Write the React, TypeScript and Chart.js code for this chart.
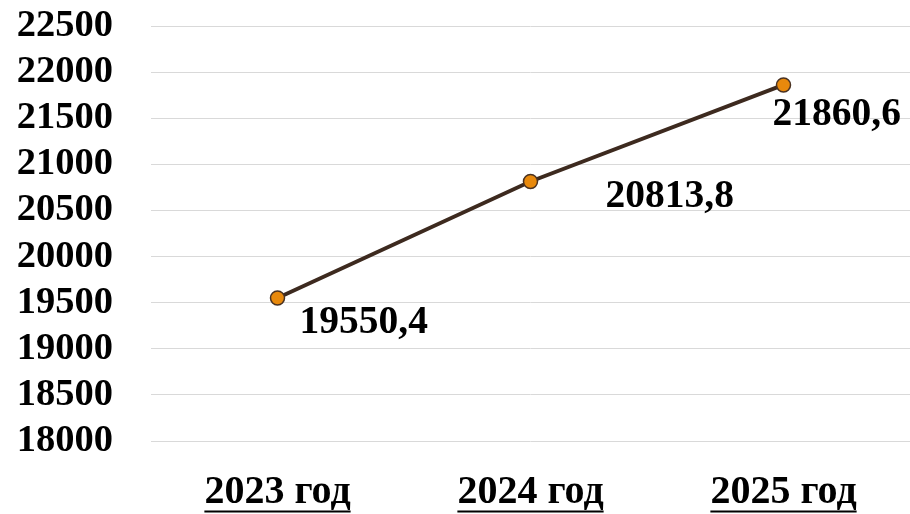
import React, { useEffect, useRef } from "react";
import { Chart, registerables } from "chart.js";

Chart.register(...registerables);

const categories: string[] = ["2023 год", "2024 год", "2025 год"];
const values: number[] = [19550.4, 20813.8, 21860.6];
const yMin = 18000;
const yMax = 22500;
const yStep = 500;

const FONT = "'Liberation Serif', 'Times New Roman', serif";
const X_FONT_SIZE = 40;

const labelOffsets: [number, number][] = [
  [22, 35],
  [75, 25],
  [-11, 40],
];

const fmt = (v: number) => v.toFixed(1).replace(".", ",");

const dataLabelPlugin = {
  id: "dataLabels",
  afterDatasetsDraw(chart: any) {
    const ctx = chart.ctx;
    const meta = chart.getDatasetMeta(0);
    ctx.save();
    ctx.font = `bold 39.5px ${FONT}`;
    ctx.fillStyle = "#000000";
    ctx.textAlign = "left";
    ctx.textBaseline = "alphabetic";
    meta.data.forEach((pt: any, i: number) => {
      const [dx, dy] = labelOffsets[i];
      ctx.fillText(fmt(values[i]), pt.x + dx, pt.y + dy);
    });
    ctx.restore();
  },
};

const underlinePlugin = {
  id: "underlineX",
  afterDraw(chart: any) {
    const ctx = chart.ctx;
    const xs = chart.scales.x;
    ctx.save();
    ctx.font = `bold ${X_FONT_SIZE}px ${FONT}`;
    ctx.strokeStyle = "#000000";
    ctx.lineWidth = 2;
    categories.forEach((c, i) => {
      const x = xs.getPixelForTick(i);
      const w = ctx.measureText(c).width;
      ctx.beginPath();
      ctx.moveTo(x - w / 2, 511.5);
      ctx.lineTo(x + w / 2, 511.5);
      ctx.stroke();
    });
    ctx.restore();
  },
};

export default function App() {
  const ref = useRef<HTMLCanvasElement>(null);

  useEffect(() => {
    document.body.style.margin = "0";
    const chart = new Chart(ref.current!, {
      type: "line",
      data: {
        labels: categories,
        datasets: [
          {
            data: values,
            borderColor: "#3D2A1F",
            borderWidth: 4,
            pointBackgroundColor: "#E8890C",
            pointBorderColor: "#4A3222",
            pointBorderWidth: 1.5,
            pointRadius: 7,
            tension: 0,
            clip: false,
          },
        ],
      },
      options: {
        animation: false,
        responsive: false,
        devicePixelRatio: 1,
        layout: { autoPadding: false, padding: { top: 26, right: 0, left: 0, bottom: 0 } },
        plugins: {
          legend: { display: false },
          tooltip: { enabled: false },
        },
        scales: {
          x: {
            offset: true,
            grid: { display: false, drawTicks: false },
            border: { display: false },
            ticks: {
              color: "#000000",
              font: { family: FONT, size: X_FONT_SIZE, weight: "bold" },
              padding: 28,
              maxRotation: 0,
              autoSkip: false,
            },
            afterFit(scale: any) {
              scale.height = 73;
              scale.paddingLeft = 0;
              scale.paddingRight = 0;
            },
          },
          y: {
            min: yMin,
            max: yMax,
            grid: { color: "#D9D9D9", lineWidth: 1, drawTicks: false },
            border: { display: false },
            ticks: {
              stepSize: yStep,
              autoSkip: false,
              color: "#000000",
              font: { family: FONT, size: 38.5, weight: "bold" },
              padding: 38,
              callback: (v: any) => String(v),
            },
            afterFit(scale: any) {
              scale.width = 151;
              scale.paddingTop = 0;
              scale.paddingBottom = 0;
            },
          },
        },
      },
      plugins: [dataLabelPlugin, underlinePlugin],
    });
    return () => chart.destroy();
  }, []);

  return (
    <div style={{ width: 910, height: 514 }}>
      <canvas ref={ref} width={910} height={514} style={{ display: "block" }} />
    </div>
  );
}
